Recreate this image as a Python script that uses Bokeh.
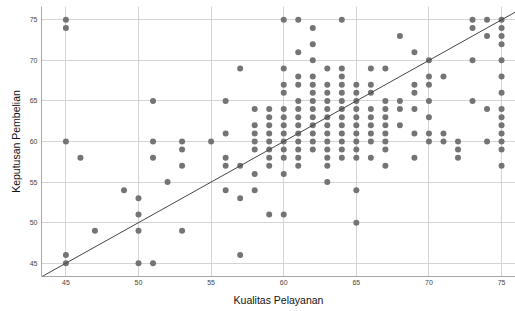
from bokeh.plotting import figure
from bokeh.models import FixedTicker, Slope, Range1d
from bokeh.embed import file_html
from bokeh.resources import INLINE

# Kualitas Pelayanan (x) and Keputusan Pembelian (y), read column by column
kualitas = (
    [45] * 5 + [46] + [47] + [49] + [50] * 4 + [51] * 4 + [52] + [53] * 4 + [55]
    + [56] * 5 + [57] * 4 + [58] * 7 + [59] * 9 + [60] * 13 + [61] * 13
    + [62] * 13 + [63] * 13 + [64] * 13 + [65] * 12 + [66] * 9 + [67] * 9
    + [68] * 4 + [69] * 6 + [70] * 7 + [71] * 3 + [72] * 3 + [73] * 4
    + [74] * 4 + [75] * 14
)
keputusan = (
    [75, 74, 60, 46, 45]                                  # 45
    + [58]                                                # 46
    + [49]                                                # 47
    + [54]                                                # 49
    + [53, 51, 49, 45]                                    # 50
    + [65, 60, 58, 45]                                    # 51
    + [55]                                                # 52
    + [60, 59, 57, 49]                                    # 53
    + [60]                                                # 55
    + [65, 61, 58, 57, 54]                                # 56
    + [69, 57, 53, 46]                                    # 57
    + [64, 62, 61, 60, 59, 56, 54]                        # 58
    + [64, 63, 62, 61, 60, 59, 58, 57, 51]                # 59
    + [75, 69, 67, 66, 64, 63, 62, 61, 60, 59, 58, 56, 51]  # 60
    + [75, 71, 68, 67, 65, 64, 63, 62, 61, 60, 59, 58, 57]  # 61
    + [74, 72, 70, 68, 67, 66, 65, 64, 63, 62, 61, 60, 59]  # 62
    + [69, 67, 66, 65, 64, 63, 62, 61, 60, 59, 58, 57, 55]  # 63
    + [75, 69, 68, 67, 66, 65, 64, 63, 62, 61, 60, 59, 58]  # 64
    + [67, 66, 65, 64, 63, 62, 61, 60, 59, 58, 54, 50]    # 65
    + [69, 67, 66, 64, 63, 62, 61, 60, 58]                # 66
    + [69, 65, 64, 63, 62, 61, 60, 59, 57]                # 67
    + [73, 65, 64, 62]                                    # 68
    + [71, 67, 66, 64, 61, 58]                            # 69
    + [70, 68, 67, 65, 63, 61, 60]                        # 70
    + [68, 61, 60]                                        # 71
    + [60, 59, 58]                                        # 72
    + [75, 74, 70, 65]                                    # 73
    + [75, 73, 64, 60]                                    # 74
    + [75, 74, 73, 72, 70, 68, 66, 64, 63, 62, 61, 60, 59, 57]  # 75
)
x_ticks = [45, 50, 55, 60, 65, 70, 75]
y_ticks = [45, 50, 55, 60, 65, 70, 75]
line_gradient = 1
line_intercept = 0

p = figure(width=515, height=311, output_backend="svg", toolbar_location=None,
           x_range=Range1d(43.32, 75.96), y_range=Range1d(43.36, 76.64),
           min_border_left=41, min_border_right=0, min_border_top=6,
           min_border_bottom=35)
p.outline_line_color = None
p.background_fill_color = "white"

p.scatter(kualitas, keputusan, size=6, fill_color="#747474", line_color=None)
p.add_layout(Slope(gradient=line_gradient, y_intercept=line_intercept,
                   line_color="#444444", line_width=1))

for ax, ticks in ((p.xaxis[0], x_ticks), (p.yaxis[0], y_ticks)):
    ax.ticker = FixedTicker(ticks=ticks)
    ax.major_tick_line_color = None
    ax.minor_tick_line_color = None
    ax.major_tick_out = 0
    ax.major_tick_in = 0
    ax.minor_tick_out = 0
    ax.minor_tick_in = 0
    ax.axis_line_color = "#a8a8a8"
    ax.major_label_text_font = "Liberation Sans"
    ax.major_label_text_font_size = "7px"
    ax.major_label_text_color = "#444444"
    ax.axis_label_text_font = "Liberation Sans"
    ax.axis_label_text_font_size = "10.5px"
    ax.axis_label_text_font_style = "normal"
    ax.axis_label_text_color = "#111111"

p.xaxis.axis_label = "Kualitas Pelayanan"
p.yaxis.axis_label = "Keputusan Pembelian"
p.xaxis.major_label_standoff = 3
p.yaxis.major_label_standoff = 4
p.xaxis.axis_label_standoff = 6
p.yaxis.axis_label_standoff = 5

p.xgrid.ticker = FixedTicker(ticks=x_ticks)
p.ygrid.ticker = FixedTicker(ticks=y_ticks)
p.grid.grid_line_color = "#d4d4d4"
p.grid.grid_line_width = 1

open("out.html", "w").write(file_html(p, INLINE))
